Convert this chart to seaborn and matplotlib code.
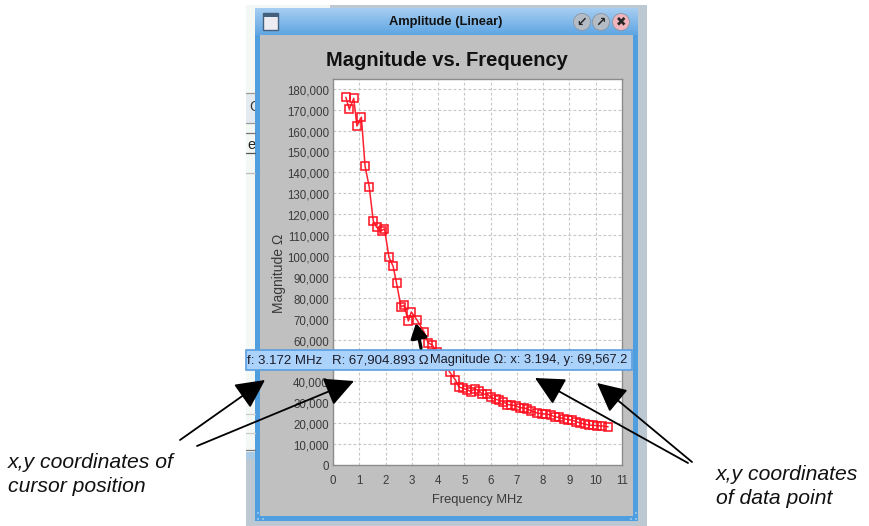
import numpy as np
import pandas as pd
import matplotlib.pyplot as plt
import matplotlib.transforms as mtrans
from matplotlib.patches import Rectangle, Circle
import seaborn as sns

# values
freq_mhz = [0.49, 0.62, 0.79, 0.91, 1.08, 1.22, 1.38, 1.53, 1.66, 1.85, 1.96, 2.13, 2.29, 2.42,
            2.59, 2.70, 2.87, 2.98, 3.19, 3.46, 3.62, 3.78, 3.95, 4.12, 4.28, 4.45, 4.66, 4.79,
            4.93, 5.11, 5.24, 5.40, 5.56, 5.69, 5.87, 6.00, 6.20, 6.32, 6.48, 6.64, 6.79, 6.96,
            7.11, 7.27, 7.40, 7.55, 7.78, 7.94, 8.12, 8.29, 8.44, 8.60, 8.78, 8.95, 9.11, 9.26,
            9.42, 9.58, 9.73, 9.90, 10.06, 10.24, 10.47]
magnitude = [175900, 170200, 175400, 162200, 166400, 143000, 133000, 116900, 113700, 112100, 113000,
             99400, 95000, 86900, 75600, 76400, 68900, 73200, 69567, 63800, 58500, 57400, 54000,
             51000, 47500, 44300, 40700, 37300, 36800, 36000, 35100, 36500, 35500, 33800, 34000,
             32400, 31400, 31000, 30300, 28900, 28700, 28400, 27400, 27300, 26800, 25800, 24900,
             24500, 24400, 23900, 23000, 22800, 22200, 21700, 21400, 20700, 20100, 19600, 19100,
             19000, 18800, 18700, 18300]
x_ticks = list(range(0, 12))
y_ticks = list(range(0, 190000, 10000))
hidden_y_label = 50000  # sits under the tooltip in the screenshot

window_title = 'Amplitude (Linear)'
chart_title = 'Magnitude vs. Frequency'
x_label = 'Frequency MHz'
y_label = 'Magnitude Ω'
cursor_f_text = 'f: 3.172 MHz'
cursor_r_text = 'R: 67,904.893 Ω'
point_text = 'Magnitude Ω: x: 3.194, y: 69,567.2'
note_left = ['x,y coordinates of', 'cursor position']
note_right = ['x,y coordinates', 'of data point']

df = pd.DataFrame({'freq': freq_mhz, 'mag': magnitude})

sns.set_style('whitegrid')
plt.rcParams['font.family'] = ['Liberation Sans', 'DejaVu Sans']

W, H = 870, 526
fig = plt.figure(figsize=(W / 100, H / 100), dpi=100, facecolor='white')


def pixel_axes(z):
    a = fig.add_axes([0, 0, 1, 1], zorder=z)
    a.set_xlim(0, W)
    a.set_ylim(H, 0)
    a.axis('off')
    a.patch.set_alpha(0)
    return a


# window behind the chart
bg = pixel_axes(0)
bg.add_patch(Rectangle((246, 5), 401, 521, color='#bcc8d2', lw=0))
bg.add_patch(Rectangle((246, 5), 84, 3, color='#f3f8f4', lw=0))
bg.add_patch(Rectangle((246, 8), 9, 444, color='#f3f8f4', lw=0))
bg.add_patch(Rectangle((246, 452), 9, 7, color='#a9cbe6', lw=0))
bg.add_patch(Rectangle((246, 94), 9, 29, color='#e4ebf0', lw=0))
for yy, col in [(93, '#999999'), (123, '#999999'), (133, '#777777'), (153, '#555555'),
                (173, '#bbbbbb'), (414, '#cccccc'), (433, '#cccccc'), (450, '#777777')]:
    bg.plot([246, 255], [yy, yy], color=col, lw=0.9)
bg.text(249, 107, 'C', fontsize=10, color='#333333', va='center', zorder=1.2)
bg.text(247, 145, 'e', fontsize=10.5, color='#222222', va='center', zorder=1.2)

# frame, title bar
bg.add_patch(Rectangle((255, 8), 383, 513, color='#4f9ee0', lw=0, zorder=1.5))
bar = np.linspace(0, 1, 27)[:, None]
bg.imshow(bar, extent=(255, 638, 35, 8), aspect='auto', zorder=2,
          cmap=plt.matplotlib.colors.LinearSegmentedColormap.from_list('tb', ['#a6cdf2', '#5fa6e2']))
bg.set_xlim(0, W)
bg.set_ylim(H, 0)
bg.add_patch(Rectangle((260, 35), 373, 481, color='#c0c0c0', lw=0, zorder=3))
bg.add_patch(Rectangle((263, 13), 15, 17, fc='#ececf2', ec='#44607c', lw=1, zorder=3))
bg.add_patch(Rectangle((263, 13), 15, 4, fc='#44607c', lw=0, zorder=3))
bg.text(446, 22, window_title, fontsize=9.3, fontweight='bold', ha='center', va='center', color='#111111', zorder=4)
for cx, col, mark in [(582, '#b4bcc6', '↙'), (601, '#b4bcc6', '↗'), (621, '#f0b4bc', '✖')]:
    bg.add_patch(Circle((cx, 22), 8.5, fc=col, ec='#8a96a4', lw=0.6, zorder=3))
    bg.text(cx, 22, mark, family='DejaVu Sans', fontsize=9, fontweight='bold', ha='center', va='center', zorder=4)
bg.text(447, 60, chart_title, fontsize=14.5, fontweight='bold', ha='center', va='center', color='#111111', zorder=4)
# resize grips
for gx, gy in [(257, 512), (257, 518), (262, 518), (635, 512), (635, 518), (630, 518)]:
    bg.add_patch(Rectangle((gx, gy), 2, 2, color='#8fc0ea', lw=0, zorder=4))

# the chart
ax = fig.add_axes([333 / W, 1 - 465 / H, 289 / W, 386.5 / H], zorder=1, facecolor='white')
sns.lineplot(data=df, x='freq', y='mag', ax=ax, sort=False, estimator=None, color='#ff2030', lw=1.1,
             marker='s', markersize=6.2, markerfacecolor='none', markeredgecolor='#ff1020',
             markeredgewidth=1.1)
ax.set_xlim(0, 11)
ax.set_ylim(0, 184900)
ax.set_xticks(x_ticks)
ax.set_yticks(y_ticks)
ax.set_yticklabels(['' if v == hidden_y_label else f'{v:,}' for v in y_ticks])
ax.grid(True, color='#c6c6c6', ls=(0, (2.5, 2)), lw=0.8)
ax.tick_params(length=1.5, width=0.7, color='#909090', labelsize=8.3, labelcolor='#3a3a3a')
ax.tick_params(axis='x', pad=6)
ax.tick_params(axis='y', pad=1.5)
for lab in ax.get_yticklabels():
    lab.set_transform(lab.get_transform() + mtrans.ScaledTranslation(0, -1 / 100, fig.dpi_scale_trans))
for s in ax.spines.values():
    s.set_color('#8c8c8c')
    s.set_linewidth(1)
ax.set_xlabel(x_label, fontsize=9.3, color='#3a3a3a', labelpad=5)
ax.set_ylabel(y_label, fontsize=10, color='#3a3a3a', labelpad=0)
ax.yaxis.set_label_coords((286 - 333) / 289, (465 - 273) / 386.5)

# tooltip and annotations on top
fg = pixel_axes(5)
fg.add_patch(Rectangle((246, 350), 386, 20, fc='#abd2fa', ec='#5a9fe2', lw=1.2))
fg.text(247, 360.5, cursor_f_text, fontsize=9.5, color='#1c1c28', va='center')
fg.text(332, 360.5, cursor_r_text, fontsize=9.5, color='#1c1c28', va='center')
fg.text(430.5, 360.5, point_text, fontsize=9.3, color='#1c1c28', va='center')


def callout(x0, y0, x1, y1):
    fg.annotate('', xy=(x1, y1), xytext=(x0, y0),
                arrowprops=dict(arrowstyle='-|>,head_length=1.5,head_width=0.75', color='black', lw=1.3,
                                shrinkA=0, shrinkB=0, mutation_scale=12))


callout(180, 440, 265, 380)
callout(197, 446, 354, 381)
callout(688, 463, 535, 378)
callout(692, 462, 597, 383)
# mouse cursor
fg.annotate('', xy=(416, 323), xytext=(421, 348),
            arrowprops=dict(arrowstyle='-|>,head_length=0.8,head_width=0.45', color='black', lw=2.4,
                            shrinkA=0, shrinkB=0, mutation_scale=11))

for txt, yy in zip(note_left, [463, 487]):
    fg.text(8, yy, txt, fontsize=15.2, style='italic', va='center', color='#111111')
for txt, yy in zip(note_right, [475, 498]):
    fg.text(716, yy, txt, fontsize=15.2, style='italic', va='center', color='#111111')

fig.savefig('out.png', dpi=100)
